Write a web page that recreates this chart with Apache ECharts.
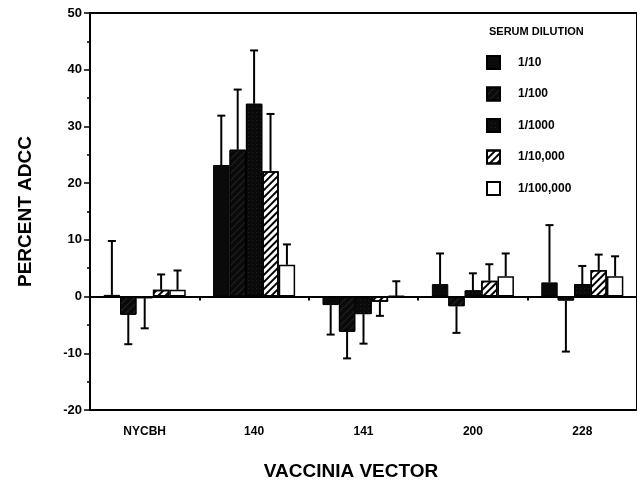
<!DOCTYPE html>
<html>
<head>
<meta charset="utf-8">
<script src="https://cdn.jsdelivr.net/npm/echarts@6/dist/echarts.min.js"></script>
<style>
html,body{margin:0;padding:0;background:#fff;}
#c{width:637px;height:486px;}
</style>
</head>
<body>
<div id="c"></div>
<script>
// ---- data ----
var categories = ['NYCBH', '140', '141', '200', '228'];
var seriesNames = ['1/10', '1/100', '1/1000', '1/10,000', '1/100,000'];
var v10     = [0.3, 23.2, -1.5, 2.2, 2.5];
var v100    = [-3.2, 25.9, -6.2, -1.7, -0.7];
var v1000   = [-0.3, 34.0, -3.1, 1.1, 2.2];
var v10000  = [1.2, 22.1, -0.9, 2.8, 4.7];
var v100000 = [1.2, 5.6, 0.1, 3.6, 3.6];
// whisker end values (mean +/- SD)
var e10     = [9.8, 31.9, -6.7, 7.6, 12.6];
var e100    = [-8.4, 36.5, -10.9, -6.4, -9.7];
var e1000   = [-5.6, 43.4, -8.3, 4.1, 5.4];
var e10000  = [3.9, 32.2, -3.4, 5.7, 7.4];
var e100000 = [4.6, 9.2, 2.7, 7.6, 7.1];
var yTicks = [-20, -10, 0, 10, 20, 30, 40, 50];

var values = [v10, v100, v1000, v10000, v100000];
var errs = [e10, e100, e1000, e10000, e100000];

var styles = [
  {color: '#0a0a0a', borderColor: '#000', borderWidth: 1},
  {color: '#0a0a0a', borderColor: '#000', borderWidth: 1,
   decal: {symbol: 'rect', color: 'rgba(80,80,80,0.35)', dashArrayX: [1, 0], dashArrayY: [1, 4], rotation: -Math.PI / 4}},
  {color: '#0a0a0a', borderColor: '#000', borderWidth: 1,
   decal: {symbol: 'rect', color: 'rgba(70,70,70,0.35)', dashArrayX: [1, 3], dashArrayY: [1, 3], rotation: 0}},
  {color: '#ffffff', borderColor: '#000', borderWidth: 1.5,
   decal: {symbol: 'rect', color: '#000', dashArrayX: [1, 0], dashArrayY: [2, 2.5], rotation: -Math.PI / 4}},
  {color: '#ffffff', borderColor: '#000', borderWidth: 1.5}
];

var series = [];
for (var i = 0; i < 5; i++) {
  var s = {
    type: 'bar',
    name: seriesNames[i],
    data: values[i],
    barGap: '0%',
    barCategoryGap: '25%',
    itemStyle: styles[i],
    z: 3
  };
  if (i === 0) {
    s.markLine = {
      silent: true,
      symbol: ['none', 'none'],
      label: {show: false},
      lineStyle: {color: '#000', width: 2, type: 'solid'},
      data: [{yAxis: 0}],
      z: 5
    };
  }
  series.push(s);
}

function makeErr(si) {
  var d = [];
  for (var k = 0; k < categories.length; k++) d.push([k, values[si][k], errs[si][k]]);
  return {
    type: 'custom',
    name: 'err' + si,
    z: 2,
    data: d,
    encode: {x: 0, y: [1, 2]},
    renderItem: function (params, api) {
      var cat = api.value(0), v = api.value(1), e = api.value(2);
      var band = api.size([1, 0])[0];
      var bw = band * 0.75 / 5;
      var base = api.coord([cat, v]);
      var end = api.coord([cat, e]);
      var x = base[0] + (si - 2) * bw;
      var cap = 4;
      return {
        type: 'group',
        children: [
          {type: 'line', shape: {x1: x, y1: base[1], x2: x, y2: end[1]}, style: {stroke: '#000', lineWidth: 2}},
          {type: 'line', shape: {x1: x - cap, y1: end[1], x2: x + cap, y2: end[1]}, style: {stroke: '#000', lineWidth: 2}}
        ]
      };
    }
  };
}
for (var j = 0; j < 5; j++) series.push(makeErr(j));

var chart = echarts.init(document.getElementById('c'), null, {renderer: 'canvas'});
chart.setOption({
  animation: false,
  backgroundColor: '#fff',
  textStyle: {fontFamily: 'Liberation Sans'},
  title: {
    text: 'SERUM DILUTION',
    left: 484, top: 21,
    textStyle: {fontFamily: 'Liberation Sans', fontSize: 11, fontWeight: 'bold', color: '#000'}
  },
  legend: {
    data: seriesNames,
    orient: 'vertical',
    left: 481, top: 50,
    itemWidth: 13, itemHeight: 13,
    itemGap: 16.5,
    icon: 'rect',
    textStyle: {fontFamily: 'Liberation Sans', fontSize: 12, fontWeight: 'bold', color: '#000', padding: [0, 0, 0, 13]}
  },
  grid: {
    left: 90, top: 13, width: 555, height: 404,
    show: true, borderColor: '#000', borderWidth: 2
  },
  xAxis: {
    type: 'category',
    data: categories,
    name: 'VACCINIA VECTOR',
    nameLocation: 'middle',
    nameGap: 52,
    nameTextStyle: {fontFamily: 'Liberation Sans', fontSize: 19, fontWeight: 'bold', color: '#000', padding: [0, 25, 0, 0]},
    axisLine: {lineStyle: {color: '#000', width: 2}},
    axisTick: {show: true, length: 4, lineStyle: {color: '#000', width: 2}},
    axisLabel: {fontFamily: 'Liberation Sans', fontSize: 12, fontWeight: 'bold', color: '#000', margin: 16},
    splitLine: {show: false}
  },
  yAxis: {
    type: 'value',
    min: yTicks[0], max: yTicks[yTicks.length - 1], interval: 10,
    name: 'PERCENT ADCC',
    nameLocation: 'middle',
    nameGap: 55,
    nameRotate: 90,
    nameTextStyle: {fontFamily: 'Liberation Sans', fontSize: 19, fontWeight: 'bold', color: '#000'},
    axisLine: {show: true, lineStyle: {color: '#000', width: 2}},
    axisTick: {show: true, length: 6, lineStyle: {color: '#000', width: 1.5}},
    minorTick: {show: true, splitNumber: 2, length: 3, lineStyle: {color: '#000', width: 1.5}},
    axisLabel: {fontFamily: 'Liberation Sans', fontSize: 13, fontWeight: 'bold', color: '#000', margin: 8},
    splitLine: {show: false}
  },
  series: series
});
</script>
</body>
</html>
